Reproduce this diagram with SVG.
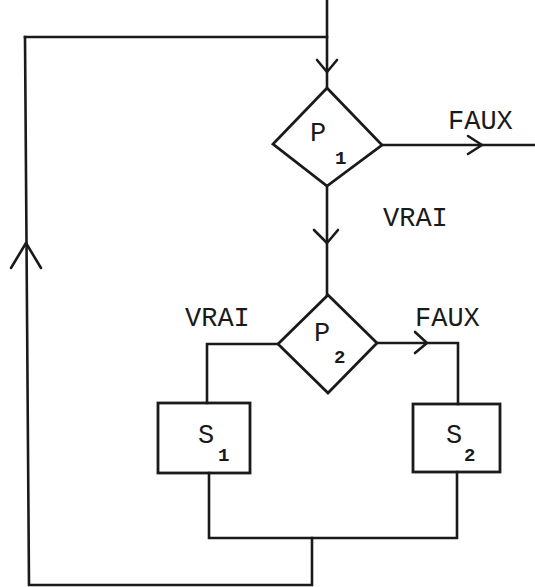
<svg xmlns="http://www.w3.org/2000/svg" width="535" height="587" viewBox="0 0 535 587">
<style>
  .ln { fill: none; stroke: #1a1a1a; stroke-width: 2.6; stroke-linejoin: miter; stroke-linecap: square; }
  .ah { fill: none; stroke: #1a1a1a; stroke-width: 2.6; stroke-linejoin: round; stroke-linecap: round; }
  .shape { fill: none; stroke: #1a1a1a; stroke-width: 2.8; }
  .t { font-family: "Liberation Mono", "Courier New", monospace; font-size: 27px; fill: #1a1a1a; }
  .sub { font-family: "Liberation Mono", "Courier New", monospace; font-size: 19px; font-weight: bold; fill: #1a1a1a; }
</style>
<rect width="535" height="587" fill="#ffffff"/>
<g id="connectors">
  <path class="ln" d="M327,0 V88"/>
  <path class="ln" d="M25,37 H327"/>
  <polyline class="ah" points="317,60 327,72 337,60"/>
  <path class="ln" d="M382,145 H535"/>
  <polyline class="ah" points="468,136 482,145 468,154"/>
  <path class="ln" d="M327,186 V295"/>
  <polyline class="ah" points="314,230 327,243 338,230"/>
  <path class="ln" d="M278,344 H207 V403"/>
  <path class="ln" d="M377,343 H458 V404"/>
  <polyline class="ah" points="415,332 427,343 415,353"/>
  <path class="ln" d="M209,473 V538 H457 V472"/>
  <path class="ln" d="M312,538 V585 H29 L25,37"/>
  <polyline class="ah" points="11,268 26,243 41,268"/>
</g>
<g id="P1">
  <polygon class="shape" points="327,88 382,145 327,186 273,144"/>
  <text class="t" x="310" y="141">P</text>
  <text class="sub" x="335" y="164">1</text>
</g>
<g id="P2">
  <polygon class="shape" points="328,295 377,343 328,393 278,344"/>
  <text class="t" x="314" y="341">P</text>
  <text class="sub" x="334" y="363">2</text>
</g>
<g id="S1">
  <rect class="shape" x="158" y="403" width="92" height="70"/>
  <text class="t" x="198" y="443">S</text>
  <text class="sub" x="218" y="461">1</text>
</g>
<g id="S2">
  <rect class="shape" x="413" y="404" width="87" height="68"/>
  <text class="t" x="446" y="443">S</text>
  <text class="sub" x="464" y="461">2</text>
</g>
<g id="labels">
  <text class="t" x="448" y="129">FAUX</text>
  <text class="t" x="383" y="226">VRAI</text>
  <text class="t" x="185" y="326">VRAI</text>
  <text class="t" x="415" y="326">FAUX</text>
</g>
</svg>
